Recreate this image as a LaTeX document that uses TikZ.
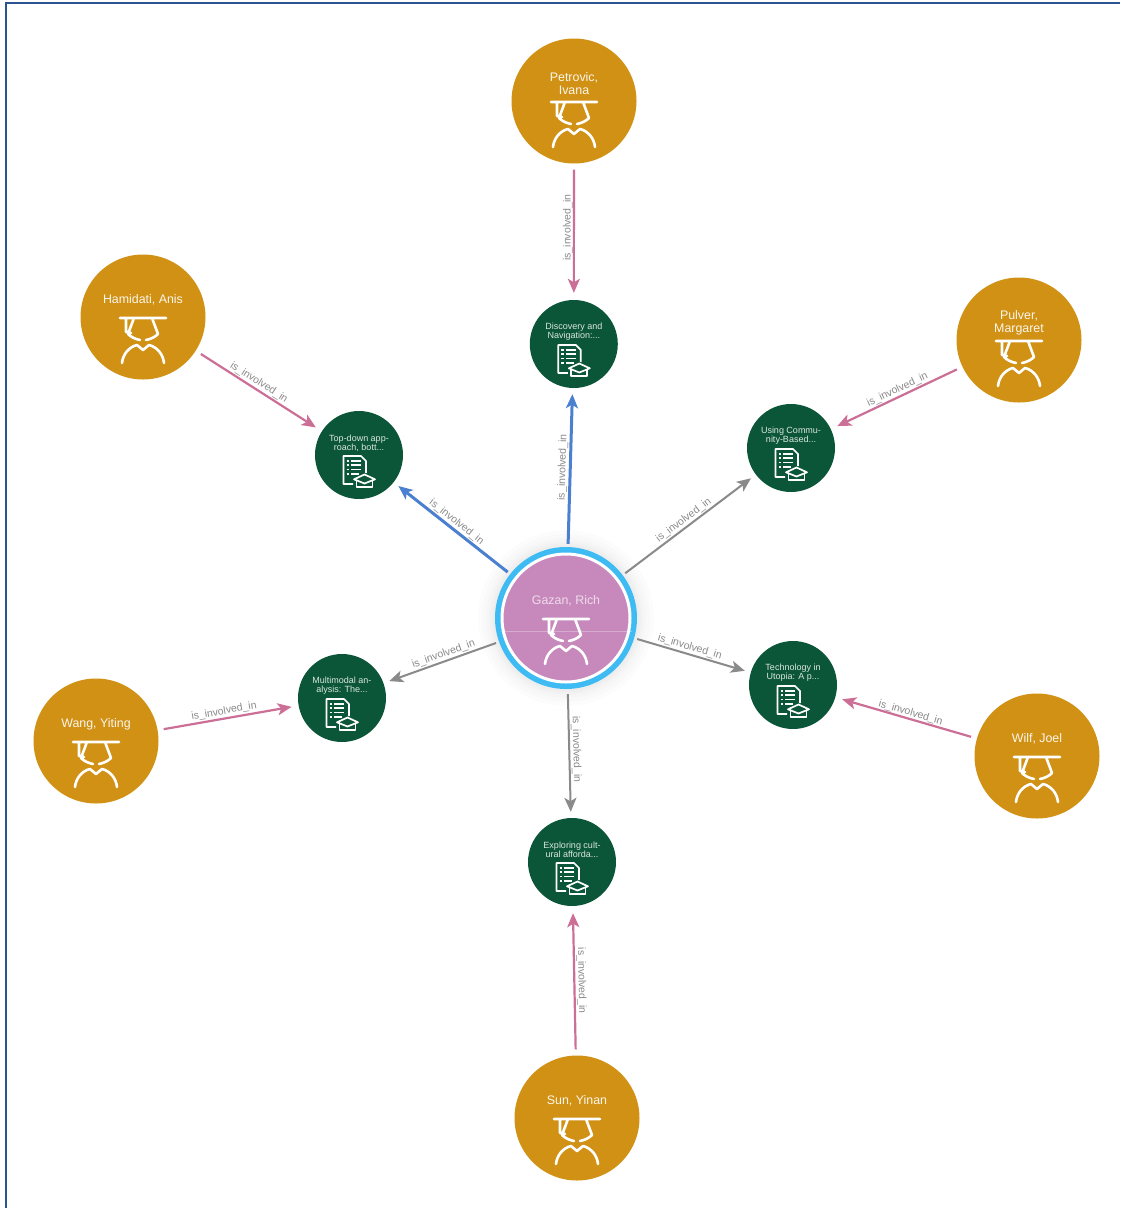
\documentclass[tikz,border=0pt]{standalone}
\usepackage{fontspec}
\setmainfont{Liberation Sans}
\usetikzlibrary{arrows.meta}

\definecolor{gold}{HTML}{D09115}
\definecolor{deepgreen}{HTML}{0B5638}
\definecolor{mauve}{HTML}{C788BC}
\definecolor{ringblue}{HTML}{3DBBF2}
\definecolor{pinkline}{HTML}{CC6F96}
\definecolor{blueline}{HTML}{4A80CF}
\definecolor{greyline}{HTML}{8A8A8A}
\definecolor{frameblue}{HTML}{2C5491}

\tikzset{
	person/.style={circle,fill=gold,minimum size=125pt,inner sep=0pt},
	paper/.style={circle,fill=deepgreen,minimum size=88pt,inner sep=0pt},
	ring/.style={circle,fill=ringblue,minimum size=142pt,inner sep=0pt},
	hub/.style={circle,fill=mauve,draw=white,line width=3pt,minimum size=128pt,inner sep=0pt},
	persontext/.style={text=white,opacity=.92,align=center,yshift=17pt,font=\fontsize{12.4}{13}\selectfont},
	hubtext/.style={text=white,opacity=.7,align=center,yshift=17pt,font=\fontsize{12.4}{13}\selectfont},
	papertext/.style={text=white,opacity=.85,align=center,yshift=12pt,font=\fontsize{9}{9}\selectfont},
	rel/.style={->,>={Stealth[length=14pt,width=12pt,inset=3.5pt]},shorten <=6pt,shorten >=7pt},
	pinkrel/.style={rel,draw=pinkline,line width=2.2pt},
	bluerel/.style={rel,draw=blueline,line width=3pt,shorten <=3pt,shorten >=6pt},
	greyrel/.style={rel,draw=greyline,line width=2pt,shorten <=3pt,shorten >=6pt},
	rellabel/.style={sloped,above,midway,inner sep=1.2pt,text=greyline,font=\fontsize{10.5}{11}\selectfont},
	personicon/.pic={
		\draw[white,line width=2.6pt,line cap=round,line join=round]
			(-23,1)--(23,1)
			(-17,1)--(-17,15)--(-12,16)
			(-9,1)--(-15,17) .. controls (-12,20) and (-8,22) .. (-3,23)
			(9,1)--(15,17) .. controls (12,20) and (8,22) .. (3,23)
			(-21,46) .. controls (-20,37) and (-14,30) .. (-6,28)--(0,33)--(6,28) .. controls (14,30) and (20,37) .. (21,46);
	},
	papericon/.pic={
		\draw[white,line width=1.7pt,line join=round]
			(-6,29)--(-15.5,29)--(-15.5,1)--(2,1)--(7,6)--(7,18);
		\draw[white,line width=1.7pt]
			(-12.5,6)--(-10,6) (-8,6)--(2,6)
			(-12.5,10.3)--(-10,10.3) (-8,10.3)--(2,10.3)
			(-12.5,14.5)--(-10,14.5) (-8,14.5)--(2,14.5)
			(-12.5,18.7)--(-10,18.7) (-8,18.7)--(0,18.7);
		\draw[white,line width=1.7pt,line join=round,fill=deepgreen]
			(-2.5,25)--(-2.5,32)--(13.5,32)--(13.5,25);
		\draw[white,line width=1.7pt,line join=round,fill=deepgreen]
			(-5,24.3)--(5.5,19.5)--(16,24.3)--(5.5,28.5)--cycle;
	}
}

\begin{document}
\begin{tikzpicture}[x=1pt,y=-1pt]

\useasboundingbox (0,0) rectangle (1120,1208);
\fill[white] (0,0) rectangle (1120,1208);
\draw[frameblue,line width=2pt] (1120,3)--(6,3)--(6,1208);

% soft glow round the hub
\foreach \r in {88,84,80,77,75,73}
	\fill[black,opacity=.012] (566,618) circle (\r);

\node[person,label={[persontext]center:Petrovic,\\Ivana}](p1) at (574,101){};
\node[person,label={[persontext]center:Hamidati, Anis}](p2) at (143,317){};
\node[person,label={[persontext]center:Pulver,\\Margaret}](p3) at (1019,340){};
\node[person,label={[persontext]center:Wang, Yiting}](p4) at (96,741){};
\node[person,label={[persontext]center:Wilf, Joel}](p5) at (1037,756){};
\node[person,label={[persontext]center:Sun, Yinan}](p6) at (577,1118){};

\node[paper,label={[papertext]center:Discovery and\\Navigation:...}](d1) at (573.8,344){};
\node[paper,label={[papertext]center:Top-down app-\\roach, bott...}](d2) at (359,455){};
\node[paper,label={[papertext]center:Using Commu-\\nity-Based...}](d3) at (791,448){};
\node[paper,label={[papertext]center:Multimodal an-\\alysis: The...}](d4) at (342,698){};
\node[paper,label={[papertext]center:Technology in\\Utopia: A p...}](d5) at (793,685){};
\node[paper,label={[papertext]center:Exploring cult-\\ural afforda...}](d6) at (572,862){};

\node[ring](g0) at (566,618){};
\node[hub,label={[hubtext]center:Gazan, Rich}](g1) at (g0){};
\draw[white,opacity=.3,line width=.8pt] ([yshift=-13pt]g1.west)--([yshift=-13pt]g1.east);

\pic at (p1) {personicon};
\pic at (p2) {personicon};
\pic at (p3) {personicon};
\pic at (p4) {personicon};
\pic at (p5) {personicon};
\pic at (p6) {personicon};
\pic at (g0) {personicon};
\pic at (d1) {papericon};
\pic at (d2) {papericon};
\pic at (d3) {papericon};
\pic at (d4) {papericon};
\pic at (d5) {papericon};
\pic at (d6) {papericon};

\path(p1)edge[pinkrel] node[rellabel,pos=.47,inner sep=0pt]{is\_involved\_in}(d1)
	(p2)edge[pinkrel] node[rellabel,pos=.47]{is\_involved\_in}(d2)
	(p3)edge[pinkrel] node[rellabel,pos=.47]{is\_involved\_in}(d3)
	(p4)edge[pinkrel] node[rellabel,pos=.48]{is\_involved\_in}(d4)
	(p5)edge[pinkrel] node[rellabel,pos=.48,inner sep=0pt]{is\_involved\_in}(d5)
	(p6)edge[pinkrel] node[rellabel]{is\_involved\_in}(d6)
	(g0)edge[bluerel] node[rellabel]{is\_involved\_in}(d1)
	(g0)edge[bluerel] node[rellabel]{is\_involved\_in}(d2)
	(g0)edge[greyrel] node[rellabel,pos=.49]{is\_involved\_in}(d3)
	(g0)edge[greyrel] node[rellabel,pos=.46]{is\_involved\_in}(d4)
	(g0)edge[greyrel] node[rellabel,pos=.46]{is\_involved\_in}(d5)
	(g0)edge[greyrel,shorten <=5pt] node[rellabel,pos=.47]{is\_involved\_in}(d6);

\end{tikzpicture}
\end{document}
